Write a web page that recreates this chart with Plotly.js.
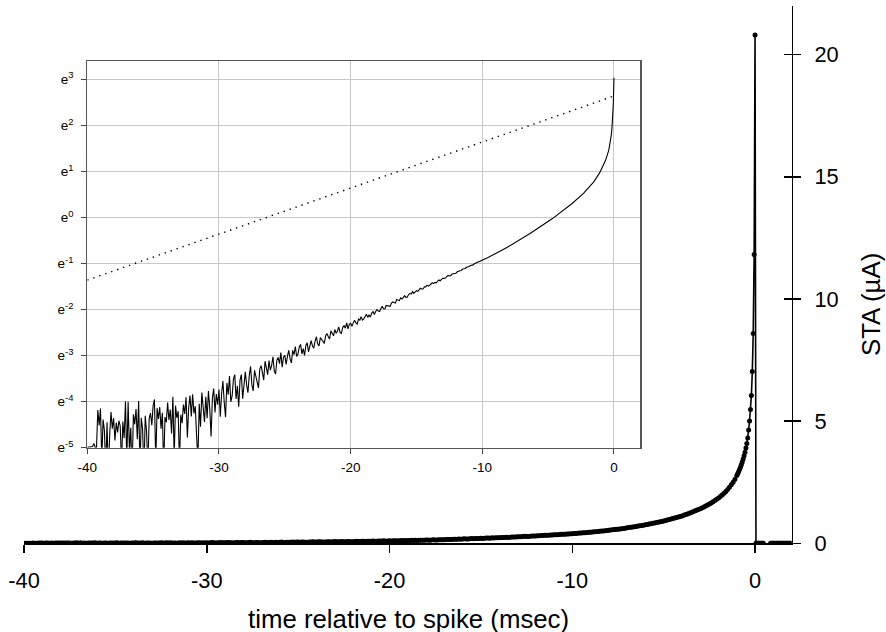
<!DOCTYPE html>
<html><head><meta charset="utf-8">
<script src="https://cdn.plot.ly/plotly-3.0.1.min.js"></script>
<style>html,body{margin:0;padding:0;background:#fff}#chart{width:886px;height:632px}</style>
</head><body><div id="chart"></div>
<script>
// sampling of the coarse part of the spike-triggered average (ms)
const T0 = -40, DT = 0.1;
// STA (µA) from -40.0 to -1.1 ms, one row per ms
const staCoarse = [
0.0068,0.0068,0.0068,0.0068,0.0069,0.0074,0.0068,0.0068,0.0153,0.0109,
0.0158,0.0052,0.0124,0.0098,0.0041,0.0117,0.0035,0.0089,0.0146,0.0102,
0.0128,0.0079,0.0116,0.0094,0.0121,0.0108,0.0046,0.0119,0.0083,0.0185,
0.0050,0.0183,0.0062,0.0104,0.0038,0.0139,0.0112,0.0156,0.0081,0.0186,
0.0043,0.0129,0.0101,0.0039,0.0135,0.0096,0.0044,0.0127,0.0143,0.0110,
0.0168,0.0192,0.0048,0.0159,0.0126,0.0163,0.0102,0.0144,0.0042,0.0131,
0.0117,0.0180,0.0123,0.0154,0.0092,0.0204,0.0055,0.0168,0.0129,0.0149,
0.0047,0.0138,0.0115,0.0172,0.0140,0.0201,0.0084,0.0161,0.0209,0.0133,
0.0215,0.0142,0.0166,0.0089,0.0050,0.0175,0.0106,0.0223,0.0151,0.0118,
0.0204,0.0128,0.0231,0.0159,0.0086,0.0197,0.0243,0.0145,0.0216,0.0172,
0.02384,0.01321,0.02188,0.02865,0.01802,0.01309,0.02745,0.02132,0.03189,0.01826,
0.02073,0.02987,0.03300,0.01944,0.02578,0.01642,0.02935,0.03299,0.01953,0.02916,
0.03510,0.02642,0.02224,0.03216,0.03938,0.02641,0.02313,0.03615,0.03207,0.02689,
0.02471,0.03713,0.04004,0.03436,0.02928,0.04409,0.03771,0.03293,0.04475,0.03626,
0.04038,0.04851,0.03565,0.03338,0.04522,0.04785,0.04188,0.05322,0.03865,0.04819,
0.05020,0.04104,0.04925,0.05576,0.04660,0.04257,0.05591,0.05080,0.06073,0.04887,
0.05150,0.06019,0.06348,0.05174,0.05791,0.04995,0.06206,0.06579,0.05414,0.06328,
0.06909,0.06180,0.05857,0.06802,0.07505,0.06389,0.06146,0.07371,0.07056,0.06643,
0.06499,0.07677,0.07999,0.07548,0.07150,0.08544,0.08029,0.07659,0.08782,0.08079,
0.08509,0.09309,0.08219,0.08082,0.09215,0.09520,0.09051,0.10139,0.08895,0.09821,
0.10024,0.09407,0.10141,0.10742,0.10125,0.09907,0.11039,0.10737,0.11604,0.10777,
0.11077,0.11863,0.12229,0.11426,0.12016,0.11507,0.12558,0.12959,0.12163,0.12984,
0.13546,0.13107,0.12983,0.13846,0.14520,0.13780,0.13718,0.14798,0.14681,0.14487,
0.14503,0.15566,0.15963,0.15759,0.15597,0.16828,0.16574,0.16433,0.17454,0.17053,
0.17535,0.18328,0.17650,0.17715,0.18766,0.19174,0.18980,0.19996,0.19200,0.20090,
0.20421,0.20106,0.20853,0.21494,0.21178,0.21177,0.22237,0.22169,0.23020,0.22539,
0.22945,0.23755,0.24233,0.23794,0.24450,0.24241,0.25259,0.25766,0.25332,0.26169,
0.26765,0.26684,0.26827,0.27676,0.28389,0.28093,0.28281,0.29285,0.29433,0.29527,
0.29852,0.30757,0.31281,0.31462,0.31667,0.32668,0.32820,0.33037,0.33918,0.33986,
0.34546,0.35263,0.35350,0.35754,0.36582,0.37134,0.37428,0.38241,0.38276,0.39035,
0.3946,0.4001,0.4057,0.4115,0.4173,0.4232,0.4291,0.4352,0.4413,0.4475,
0.4538,0.4612,0.4686,0.4762,0.4838,0.4916,0.4996,0.5076,0.5158,0.5241,
0.5326,0.5417,0.5510,0.5605,0.5701,0.5799,0.5898,0.5999,0.6102,0.6207,
0.6313,0.6428,0.6544,0.6663,0.6784,0.6907,0.7033,0.7161,0.7291,0.7423,
0.7558,0.7703,0.7851,0.8001,0.8155,0.8311,0.8471,0.8633,0.8799,0.8968,
0.9139,0.9329,0.9522,0.9719,0.9920,1.0126,1.0335,1.0549,1.0768,1.0991,
1.1219,1.1480,1.1747,1.2020,1.2300,1.2586,1.2879,1.3179,1.3485,1.3799,
1.4120,1.4463,1.4829,1.5220,1.5636,1.6064,1.6520,1.6989,1.7489,1.8022,
1.8589,1.9155,1.9778,2.0462,2.1212,2.2034,2.2933,2.3917,2.4993,2.6222
];
// fine sampling just before the spike
const tFine = [-1.0,-0.95,-0.9,-0.85,-0.8,-0.75,-0.7,-0.65,-0.6,-0.55,-0.5,-0.45,-0.4,-0.35,-0.3,-0.25,-0.2,-0.15,-0.1,-0.05,0];
const staFine = [2.773,2.849,2.930,3.016,3.111,3.212,3.323,3.445,3.579,3.728,3.896,4.088,4.306,4.641,5.003,5.474,6.050,7.029,8.585,11.82,20.8];
// after the spike
const tPost = [0.05,0.1,0.15,0.2,0.25,0.3,0.35,0.4,0.45,0.65,0.85,0.9,0.95,1.0,1.05,1.1,1.15,1.2,1.25,1.3,1.35,1.4,1.45,1.5,1.55,1.6,1.65,1.7,1.75,1.8,1.85,1.9,1.95];
const staPost = [0,0,0,0,0,0,0,0,0,null,0,0,0,0,0,0,0,0,0,0,0,0,0,0,0,0,0,0,0,0,0,0,0];
// exponential reference line (dotted) in the inset
const fitT = [-40, 0];
const fitSTA = [0.2567, 14.01];
// ticks and texts
const mainXTicks = [-40,-30,-20,-10,0];
const mainXLabels = ['-40','-30','-20','-10','0'];
const mainYTicks = [0,5,10,15,20];
const insetXTicks = [-40,-30,-20,-10,0];
const insetXLabels = ['-40','-30','-20','-10','0'];
const insetYPowers = [-5,-4,-3,-2,-1,0,1,2,3];
const insetYLabels = ['e<sup>-5</sup>','e<sup>-4</sup>','e<sup>-3</sup>','e<sup>-2</sup>','e<sup>-1</sup>','e<sup>0</sup>','e<sup>1</sup>','e<sup>2</sup>','e<sup>3</sup>'];
const xTitle = 'time relative to spike (msec)';
const yTitle = 'STA (µA)';

const tCoarse = staCoarse.map((_, i) => +(T0 + i * DT).toFixed(2));
const tAll = tCoarse.concat(tFine, tPost);
const sAll = staCoarse.concat(staFine, staPost);
const tNeg = tCoarse.concat(tFine);
const sNeg = staCoarse.concat(staFine);

const FONT = '"Liberation Sans", Arial, Helvetica, sans-serif';
const TICK = 21.8, TITLE = 25.8, ITICK = 13.5;
const LOG10E = Math.LOG10E;
const W = 886, H = 632;

const traces = [
  {x: tAll, y: sAll, xaxis: 'x', yaxis: 'y', type: 'scatter', mode: 'lines+markers',
   line: {color: '#000', width: 1.6}, marker: {color: '#000', size: 5}, hoverinfo: 'skip'},
  {x: [], y: [], xaxis: 'x', yaxis: 'y3', type: 'scatter', mode: 'lines', hoverinfo: 'skip'},
  {x: tNeg, y: sNeg, xaxis: 'x2', yaxis: 'y2', type: 'scatter', mode: 'lines',
   line: {color: '#000', width: 1.1}, hoverinfo: 'skip'},
  {x: fitT, y: fitSTA, xaxis: 'x2', yaxis: 'y2', type: 'scatter', mode: 'lines',
   line: {color: '#000', width: 1.4, dash: '1.4px,4.9px'}, hoverinfo: 'skip'}
];

const layout = {
  width: W, height: H,
  margin: {l: 0, r: 0, t: 0, b: 0},
  paper_bgcolor: '#fff', plot_bgcolor: '#fff',
  showlegend: false,
  font: {family: FONT, color: '#000'},
  xaxis: {
    domain: [24/W, 791.6/W], anchor: 'y', range: [-40, 2],
    showline: true, linecolor: '#000', linewidth: 1.5,
    ticks: 'outside', ticklen: 8, tickwidth: 1.5, tickcolor: '#000',
    tickmode: 'array', tickvals: mainXTicks, ticktext: mainXLabels,
    tickfont: {size: TICK, family: FONT}, ticklabelstandoff: 9,
    showgrid: false, zeroline: false
  },
  yaxis: {
    domain: [(H-543.3)/H, (H-5.7)/H], anchor: 'x', side: 'right', range: [0, 22],
    showline: true, linecolor: '#000', linewidth: 1.5,
    ticks: 'outside', ticklen: 8, tickwidth: 1.5, tickcolor: '#000',
    tickmode: 'array', tickvals: mainYTicks,
    tickfont: {size: TICK, family: FONT}, ticklabelstandoff: 9,
    showgrid: false, zeroline: false
  },
  yaxis3: {
    overlaying: 'y', anchor: 'x', side: 'right', range: [0, 22],
    showline: false, ticks: 'inside', ticklen: 8, tickwidth: 1.5, tickcolor: '#000',
    tickmode: 'array', tickvals: mainYTicks, showticklabels: false,
    showgrid: false, zeroline: false
  },
  xaxis2: {
    domain: [87.3/W, 640.3/W], anchor: 'y2', range: [-40, 2],
    showline: true, mirror: true, linecolor: '#555', linewidth: 1.2,
    ticks: 'outside', ticklen: 5, tickwidth: 1, tickcolor: '#444',
    tickmode: 'array', tickvals: insetXTicks, ticktext: insetXLabels,
    tickfont: {size: ITICK, family: FONT}, ticklabelstandoff: 2,
    showgrid: true, gridcolor: '#c8c8c8', gridwidth: 1, zeroline: false
  },
  yaxis2: {
    domain: [(H-447.7)/H, (H-61)/H], anchor: 'x2', type: 'log',
    range: [-5 * LOG10E, 3.4 * LOG10E],
    showline: true, mirror: true, linecolor: '#555', linewidth: 1.2,
    ticks: 'outside', ticklen: 5, tickwidth: 1, tickcolor: '#444',
    tickmode: 'array', tickvals: insetYPowers.map(p => Math.exp(p)), ticktext: insetYLabels,
    tickfont: {size: ITICK, family: FONT}, ticklabelstandoff: 5,
    showgrid: true, gridcolor: '#c8c8c8', gridwidth: 1, zeroline: false
  },
  annotations: [
    {text: xTitle, xref: 'paper', yref: 'paper', x: 408/W, y: (H-619)/H,
     xanchor: 'center', yanchor: 'middle', showarrow: false, font: {size: TITLE, family: FONT}},
    {text: yTitle, xref: 'paper', yref: 'paper', x: 871/W, y: (H-305)/H, textangle: -90,
     xanchor: 'center', yanchor: 'middle', showarrow: false, font: {size: TITLE, family: FONT}}
  ]
};

Plotly.newPlot('chart', traces, layout, {staticPlot: true, displayModeBar: false});
</script></body></html>
